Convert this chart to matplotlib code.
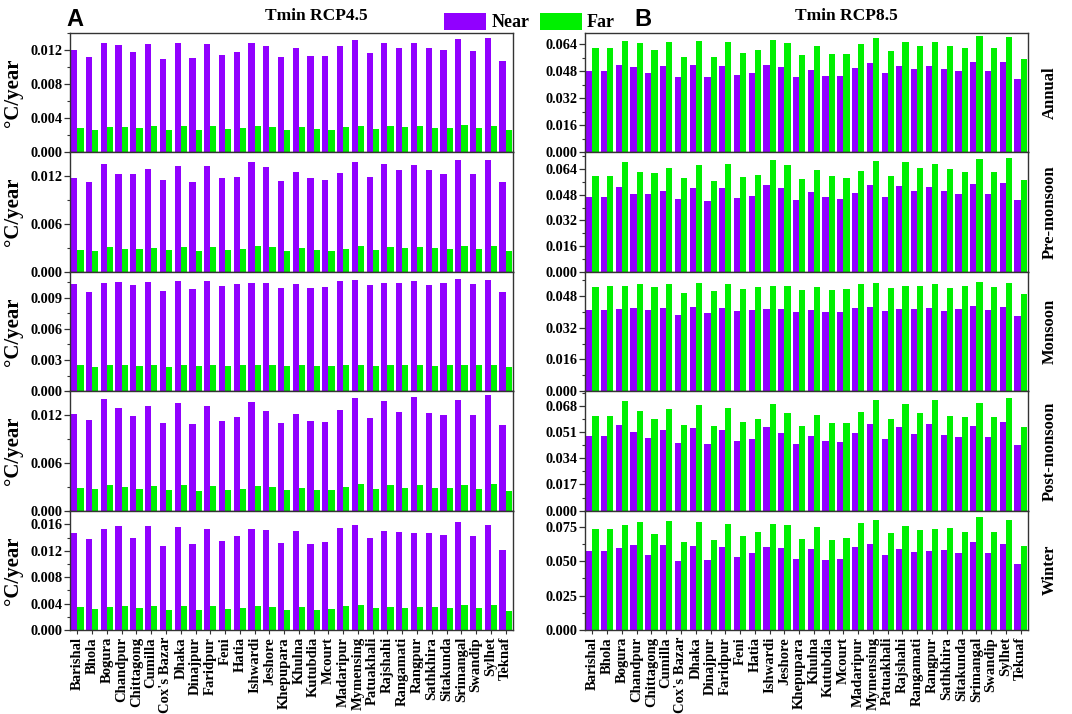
import matplotlib
matplotlib.use("Agg")
import matplotlib.pyplot as plt
import numpy as np
from matplotlib.ticker import MultipleLocator, FormatStrFormatter

stations = ["Barishal", "Bhola", "Bogura", "Chandpur", "Chittagong", "Cumilla", "Cox's Bazar",
            "Dhaka", "Dinajpur", "Faridpur", "Feni", "Hatia", "Ishwardi", "Jeshore", "Khepupara",
            "Khulna", "Kutubdia", "Mcourt", "Madaripur", "Mymensing", "Patuakhali", "Rajshahi",
            "Rangamati", "Rangpur", "Sathkhira", "Sitakunda", "Srimangal", "Swandip", "Sylhet", "Teknaf"]
seasons = ["Annual", "Pre-monsoon", "Monsoon", "Post-monsoon", "Winter"]

# ---- RCP4.5 (panel A) ----
ann45_near = [0.01202, 0.01124, 0.01292, 0.01260, 0.01186, 0.01280, 0.01100, 0.01292, 0.01108, 0.01280,
              0.01147, 0.01182, 0.01292, 0.01257, 0.01120, 0.01230, 0.01132, 0.01132, 0.01253, 0.01327,
              0.01175, 0.01284, 0.01230, 0.01284, 0.01225, 0.01206, 0.01339, 0.01198, 0.01343, 0.01077]
ann45_far = [0.00285, 0.00265, 0.00304, 0.00297, 0.00285, 0.00308, 0.00261, 0.00308, 0.00261, 0.00308,
             0.00277, 0.00285, 0.00308, 0.00297, 0.00269, 0.00297, 0.00277, 0.00269, 0.00297, 0.00316,
             0.00277, 0.00308, 0.00297, 0.00308, 0.00289, 0.00289, 0.00320, 0.00285, 0.00316, 0.00258]
pre45_near = [0.01171, 0.01116, 0.01343, 0.01225, 0.01217, 0.01280, 0.01150, 0.01317, 0.01116, 0.01326,
              0.01166, 0.01187, 0.01368, 0.01309, 0.01133, 0.01250, 0.01175, 0.01145, 0.01234, 0.01368,
              0.01179, 0.01347, 0.01271, 0.01330, 0.01267, 0.01225, 0.01389, 0.01221, 0.01397, 0.01120]
pre45_far = [0.00277, 0.00260, 0.00310, 0.00290, 0.00290, 0.00302, 0.00269, 0.00306, 0.00260, 0.00306,
             0.00277, 0.00281, 0.00319, 0.00306, 0.00264, 0.00294, 0.00277, 0.00264, 0.00290, 0.00319,
             0.00277, 0.00310, 0.00302, 0.00306, 0.00302, 0.00290, 0.00327, 0.00290, 0.00327, 0.00260]
mon45_near = [0.01035, 0.00952, 0.01045, 0.01055, 0.01023, 0.01051, 0.00968, 0.01064, 0.00987, 0.01058,
              0.01013, 0.01029, 0.01042, 0.01042, 0.00997, 0.01032, 0.00997, 0.01003, 0.01061, 0.01071,
              0.01023, 0.01039, 0.01045, 0.01061, 0.01023, 0.01039, 0.01077, 0.01032, 0.01071, 0.00955]
mon45_far = [0.00248, 0.00232, 0.00248, 0.00251, 0.00241, 0.00251, 0.00232, 0.00254, 0.00238, 0.00251,
             0.00238, 0.00248, 0.00248, 0.00248, 0.00238, 0.00248, 0.00238, 0.00238, 0.00248, 0.00254,
             0.00238, 0.00248, 0.00248, 0.00248, 0.00241, 0.00248, 0.00254, 0.00248, 0.00254, 0.00232]
post45_near = [0.01217, 0.01133, 0.01401, 0.01292, 0.01183, 0.01313, 0.01099, 0.01355, 0.01083, 0.01317,
               0.01124, 0.01175, 0.01364, 0.01255, 0.01095, 0.01217, 0.01120, 0.01112, 0.01267, 0.01410,
               0.01162, 0.01372, 0.01242, 0.01422, 0.01225, 0.01204, 0.01393, 0.01204, 0.01448, 0.01070]
post45_far = [0.00285, 0.00269, 0.00323, 0.00298, 0.00273, 0.00306, 0.00260, 0.00319, 0.00252, 0.00310,
              0.00264, 0.00273, 0.00315, 0.00298, 0.00260, 0.00285, 0.00264, 0.00264, 0.00298, 0.00331,
              0.00273, 0.00323, 0.00290, 0.00327, 0.00285, 0.00285, 0.00323, 0.00277, 0.00336, 0.00252]
win45_near = [0.01463, 0.01382, 0.01524, 0.01570, 0.01392, 0.01580, 0.01271, 0.01554, 0.01301, 0.01534,
              0.01352, 0.01418, 0.01534, 0.01514, 0.01316, 0.01499, 0.01301, 0.01327, 0.01544, 0.01595,
              0.01392, 0.01504, 0.01484, 0.01468, 0.01478, 0.01443, 0.01635, 0.01418, 0.01595, 0.01215]
win45_far = [0.00344, 0.00319, 0.00354, 0.00365, 0.00334, 0.00365, 0.00304, 0.00365, 0.00309, 0.00365,
             0.00319, 0.00334, 0.00365, 0.00354, 0.00309, 0.00349, 0.00309, 0.00319, 0.00365, 0.00375,
             0.00334, 0.00349, 0.00334, 0.00344, 0.00349, 0.00334, 0.00380, 0.00334, 0.00375, 0.00289]

# ---- RCP8.5 (panel B) ----
ann85_near = [0.04795, 0.04795, 0.05167, 0.05030, 0.04717, 0.05108, 0.04423, 0.05147, 0.04423, 0.05108,
              0.04580, 0.04717, 0.05167, 0.05030, 0.04462, 0.04893, 0.04521, 0.04521, 0.05010, 0.05304,
              0.04678, 0.05108, 0.04912, 0.05128, 0.04912, 0.04795, 0.05363, 0.04795, 0.05363, 0.04306]
ann85_far = [0.06146, 0.06146, 0.06596, 0.06439, 0.06067, 0.06537, 0.05656, 0.06596, 0.05656, 0.06537,
             0.05872, 0.06067, 0.06615, 0.06439, 0.05735, 0.06263, 0.05793, 0.05793, 0.06400, 0.06772,
             0.06009, 0.06537, 0.06263, 0.06537, 0.06263, 0.06146, 0.06850, 0.06146, 0.06831, 0.05500]
pre85_near = [0.04657, 0.04657, 0.05299, 0.04864, 0.04823, 0.05050, 0.04554, 0.05195, 0.04409, 0.05216,
              0.04616, 0.04698, 0.05402, 0.05195, 0.04492, 0.04947, 0.04636, 0.04512, 0.04906, 0.05402,
              0.04657, 0.05320, 0.05009, 0.05278, 0.05009, 0.04843, 0.05485, 0.04823, 0.05547, 0.04450]
pre85_far = [0.05961, 0.05940, 0.06810, 0.06210, 0.06168, 0.06479, 0.05837, 0.06644, 0.05651, 0.06706,
             0.05899, 0.06023, 0.06934, 0.06644, 0.05775, 0.06334, 0.05961, 0.05837, 0.06272, 0.06893,
             0.05982, 0.06810, 0.06458, 0.06727, 0.06417, 0.06210, 0.07017, 0.06210, 0.07079, 0.05713]
mon85_near = [0.04097, 0.04097, 0.04130, 0.04180, 0.04063, 0.04197, 0.03845, 0.04214, 0.03945, 0.04197,
              0.04013, 0.04080, 0.04147, 0.04130, 0.03962, 0.04097, 0.03962, 0.03996, 0.04197, 0.04248,
              0.04046, 0.04130, 0.04147, 0.04197, 0.04046, 0.04113, 0.04264, 0.04097, 0.04248, 0.03794]
mon85_far = [0.05255, 0.05272, 0.05305, 0.05389, 0.05221, 0.05373, 0.04919, 0.05423, 0.05020, 0.05389,
             0.05137, 0.05221, 0.05305, 0.05272, 0.05070, 0.05255, 0.05070, 0.05121, 0.05389, 0.05440,
             0.05188, 0.05272, 0.05305, 0.05389, 0.05188, 0.05272, 0.05473, 0.05255, 0.05440, 0.04869]
post85_near = [0.04845, 0.04824, 0.05589, 0.05121, 0.04739, 0.05228, 0.04378, 0.05376, 0.04314, 0.05228,
               0.04526, 0.04675, 0.05419, 0.05015, 0.04356, 0.04866, 0.04505, 0.04441, 0.05058, 0.05610,
               0.04654, 0.05440, 0.04951, 0.05653, 0.04888, 0.04781, 0.05504, 0.04781, 0.05738, 0.04250]
post85_far = [0.06163, 0.06141, 0.07098, 0.06503, 0.05971, 0.06630, 0.05568, 0.06843, 0.05483, 0.06651,
              0.05738, 0.05950, 0.06906, 0.06354, 0.05525, 0.06205, 0.05695, 0.05674, 0.06418, 0.07161,
              0.05929, 0.06906, 0.06311, 0.07183, 0.06163, 0.06099, 0.07013, 0.06078, 0.07289, 0.05419]
win85_near = [0.0574, 0.0574, 0.0598, 0.0617, 0.0549, 0.0622, 0.0499, 0.0612, 0.0508, 0.0603,
              0.0530, 0.0557, 0.0603, 0.0595, 0.0515, 0.0586, 0.0511, 0.0520, 0.0605, 0.0627,
              0.0549, 0.0590, 0.0569, 0.0576, 0.0581, 0.0559, 0.0641, 0.0559, 0.0627, 0.0479]
win85_far = [0.0733, 0.0733, 0.0765, 0.0789, 0.0702, 0.0796, 0.0639, 0.0784, 0.0653, 0.0770,
             0.0682, 0.0711, 0.0770, 0.0762, 0.0661, 0.0750, 0.0653, 0.0668, 0.0777, 0.0803,
             0.0704, 0.0760, 0.0726, 0.0738, 0.0743, 0.0716, 0.0823, 0.0714, 0.0799, 0.0609]

near45 = [ann45_near, pre45_near, mon45_near, post45_near, win45_near]
far45 = [ann45_far, pre45_far, mon45_far, post45_far, win45_far]
near85 = [ann85_near, pre85_near, mon85_near, post85_near, win85_near]
far85 = [ann85_far, pre85_far, mon85_far, post85_far, win85_far]

# axis settings (limits, major tick step)
ylim45 = [0.01405, 0.0149, 0.0115, 0.0150, 0.0181]
step45 = [0.004, 0.006, 0.003, 0.006, 0.004]
ylim85 = [0.0705, 0.0743, 0.0601, 0.0776, 0.0869]
step85 = [0.016, 0.016, 0.016, 0.017, 0.025]

NEAR_C = "#9100FF"
FAR_C = "#00F000"
SPINE_C = "#333333"
SERIF = "Liberation Serif"
SANS = "Liberation Sans"

plt.rcParams["font.family"] = SERIF
plt.rcParams["font.weight"] = "bold"

fig = plt.figure(figsize=(10.72, 7.14), dpi=100)
W, H = 1072.0, 714.0
top_px, bot_px = 33.0, 630.0
row_h = (bot_px - top_px) / 5
cols = [(70.0, 513.0), (585.0, 1028.0)]

x = np.arange(len(stations))
bw = 0.42

handles = None
for c, (near_l, far_l, ylims, steps) in enumerate([(near45, far45, ylim45, step45),
                                                   (near85, far85, ylim85, step85)]):
    x0, x1 = cols[c]
    for r in range(5):
        ytop = top_px + r * row_h
        ax = fig.add_axes([x0 / W, 1 - (ytop + row_h) / H, (x1 - x0) / W, row_h / H])
        b1 = ax.bar(x - bw / 2, near_l[r], width=bw, color=NEAR_C, linewidth=0, label="Near")
        b2 = ax.bar(x + bw / 2, far_l[r], width=bw, color=FAR_C, linewidth=0, label="Far")
        handles = [b1, b2]
        ax.set_xlim(-0.5, len(stations) - 0.5)
        ax.set_ylim(0, ylims[r])
        ax.yaxis.set_major_locator(MultipleLocator(steps[r]))
        ax.yaxis.set_minor_locator(MultipleLocator(steps[r] / 2))
        ax.yaxis.set_major_formatter(FormatStrFormatter("%.3f"))
        for s in ax.spines.values():
            s.set_color(SPINE_C)
            s.set_linewidth(1.0)
        ax.tick_params(axis="y", which="major", direction="out", length=4, width=0.9,
                       colors=SPINE_C, labelcolor="black", labelsize=10.3, pad=1.5)
        ax.tick_params(axis="y", which="minor", direction="out", length=2, width=0.8, colors=SPINE_C)
        for lab in ax.get_yticklabels():
            lab.set_fontweight("bold")
            lab.set_fontfamily(SERIF)
        if r == 4:
            ax.set_xticks(x)
            ax.set_xticklabels(stations, rotation=90, fontsize=10.5, fontweight="bold",
                               fontfamily=SERIF)
            ax.tick_params(axis="x", direction="out", length=3, width=0.8, colors=SPINE_C,
                           labelcolor="black", pad=2)
        else:
            ax.set_xticks([])
        yc = 1 - (ytop + row_h / 2) / H
        if c == 0:
            fig.text(13 / W, yc, "°C/year", rotation=90, ha="center", va="center",
                     fontsize=15, fontweight="bold", fontfamily=SERIF)
        else:
            fig.text(1050 / W, yc, seasons[r], rotation=90, ha="center", va="center",
                     fontsize=12, fontweight="bold", fontfamily=SERIF)

fig.text(316 / W, 1 - 16 / H, "Tmin RCP4.5", ha="center", va="center", fontsize=12.5,
         fontweight="bold", fontfamily=SERIF)
fig.text(846 / W, 1 - 16 / H, "Tmin RCP8.5", ha="center", va="center", fontsize=12.5,
         fontweight="bold", fontfamily=SERIF)
fig.text(66 / W, 1 - 19 / H, "A", ha="left", va="center", fontsize=17, fontweight="bold",
         fontfamily=SANS)
fig.text(634 / W, 1 - 19 / H, "B", ha="left", va="center", fontsize=17, fontweight="bold",
         fontfamily=SANS)

fig.legend(handles, ["Near", "Far"], loc="upper center", bbox_to_anchor=(0.494, 1.005), ncol=2,
           frameon=False, prop={"family": SERIF, "weight": "bold", "size": 13},
           handlelength=2.3, handleheight=1.1, handletextpad=0.3, columnspacing=0.6)

fig.savefig("out.png", dpi=100)
